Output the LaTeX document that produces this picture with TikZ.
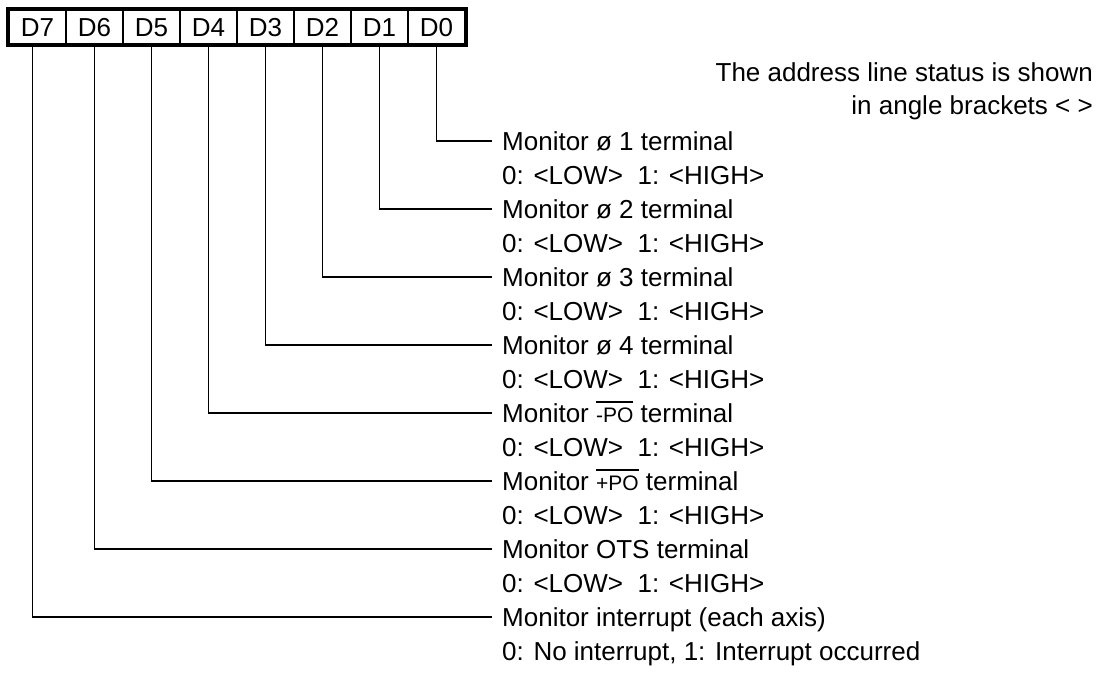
\documentclass[tikz,border=0pt]{standalone}
\usepackage{fontspec}
\setmainfont{Liberation Sans}
\newcommand{\ovlbar}[1]{{\setbox0\hbox{\fontsize{21}{21}\selectfont #1}\rlap{\rule[19.5pt]{\wd0}{1.2pt}}\box0}}
\begin{document}
\begin{tikzpicture}[x=1pt,y=-1pt,
  every node/.style={font=\fontsize{26}{33}\selectfont},
  cell/.style={draw,line width=1.4pt,minimum width=57pt,minimum height=35pt,inner sep=0pt,
    text height=18.5pt,text depth=0pt,font=\fontsize{26}{26}\selectfont},
  lbl/.style={anchor=west,inner sep=0pt,text height=18.5pt,text depth=0.5pt},
  wire/.style={line width=1.4pt}]
\useasboundingbox (0,0) rectangle (1104,675);
% register cells
\foreach \i/\n in {0/7,1/6,2/5,3/4,4/3,5/2,6/1,7/0}
  \node[cell] (c\n) at ({37.5+57*\i},27) {D\n};
\draw[line width=3.8pt] (c7.north west) rectangle (c0.south east);
% note
\node[lbl,anchor=east] (note1) at (1093,72) {The address line status is shown};
\node[lbl,anchor=east] (note2) at (1093,105) {in angle brackets < >};
% labels
\node[lbl] (m0) at (502,141) {Monitor ø 1 terminal};
\node[lbl] (s0) at (502,175) {0: <LOW>\ \ 1: <HIGH>};
\node[lbl] (m1) at (502,209) {Monitor ø 2 terminal};
\node[lbl] (s1) at (502,243) {0: <LOW>\ \ 1: <HIGH>};
\node[lbl] (m2) at (502,277) {Monitor ø 3 terminal};
\node[lbl] (s2) at (502,311) {0: <LOW>\ \ 1: <HIGH>};
\node[lbl] (m3) at (502,345) {Monitor ø 4 terminal};
\node[lbl] (s3) at (502,379) {0: <LOW>\ \ 1: <HIGH>};
\node[lbl] (m4) at (502,413) {Monitor \ovlbar{-PO} terminal};
\node[lbl] (s4) at (502,447) {0: <LOW>\ \ 1: <HIGH>};
\node[lbl] (m5) at (502,481) {Monitor \ovlbar{+PO} terminal};
\node[lbl] (s5) at (502,515) {0: <LOW>\ \ 1: <HIGH>};
\node[lbl] (m6) at (502,549) {Monitor OTS terminal};
\node[lbl] (s6) at (502,583) {0: <LOW>\ \ 1: <HIGH>};
\node[lbl] (m7) at (502,617) {Monitor interrupt (each axis)};
\node[lbl] (s7) at (502,651) {0: No interrupt, 1: Interrupt occurred};
% connectors
\foreach \n in {0,1,2,3,4,5,6}
  \draw[wire] (c\n.south) |- ([xshift=-10pt]m\n.west);
\draw[wire] ([xshift=-5pt]c7.south) |- ([xshift=-10pt]m7.west);
\end{tikzpicture}
\end{document}
